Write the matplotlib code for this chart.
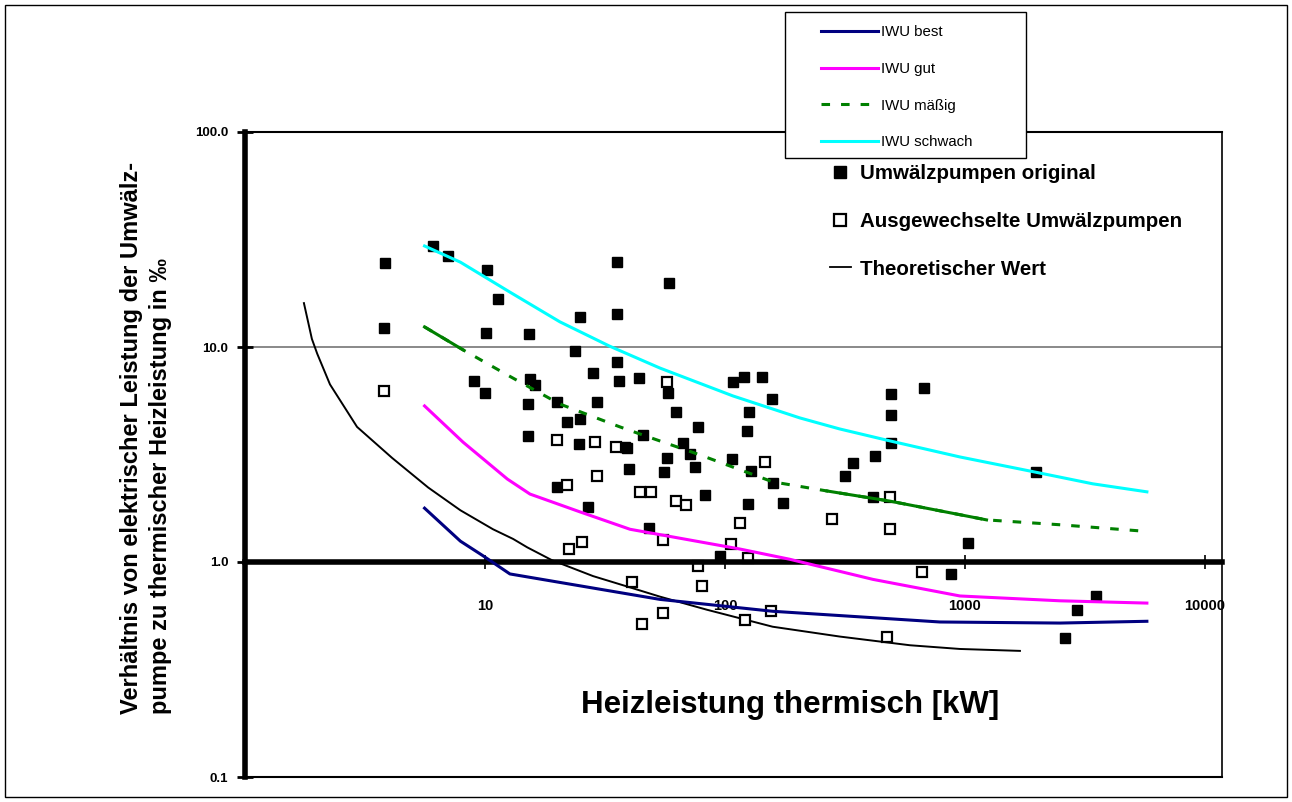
import matplotlib
matplotlib.use("Agg")
import matplotlib.pyplot as plt
from matplotlib.lines import Line2D
from matplotlib.patches import Rectangle
from matplotlib.ticker import NullLocator

plt.rcParams['font.family'] = ['Liberation Sans', 'DejaVu Sans']

# IWU Kennlinien
best_x = [5.6, 7.9, 9.8, 12.7, 53.6, 158, 787, 2490, 5730]
best_y = [1.78, 1.25, 1.07, 0.88, 0.67, 0.59, 0.526, 0.52, 0.53]
gut_x = [5.6, 8.1, 12.4, 15.4, 24.9, 40.2, 115, 186, 414, 953, 2490, 5730]
gut_y = [5.32, 3.61, 2.43, 2.07, 1.71, 1.42, 1.15, 1.03, 0.83, 0.695, 0.66, 0.644]
maessig_x = [5.6, 8.1, 12.7, 20.5, 36.5, 44.2, 78.6, 158, 266, 486, 787, 1230, 2490, 5600]
maessig_y = [12.4, 9.7, 7.3, 5.43, 4.25, 3.94, 3.15, 2.36, 2.14, 1.92, 1.73, 1.57, 1.49, 1.39]
schwach_x = [5.6, 7.9, 12.7, 20.5, 33, 53.6, 108, 205, 300, 486, 953, 1960, 3410, 5730]
schwach_y = [29.5, 24.8, 18.0, 13.1, 10.1, 7.98, 5.92, 4.68, 4.16, 3.66, 3.08, 2.62, 2.31, 2.12]

# theoretischer Wert
theo_x = [1.76, 1.90, 2.0, 2.26, 2.93, 4.1, 5.8, 7.9, 10.8, 13.1, 15.0, 19.0, 28.2, 39, 53.6,
          84, 158, 301, 590, 953, 1695]
theo_y = [16.0, 10.9, 9.3, 6.7, 4.25, 3.05, 2.22, 1.74, 1.42, 1.28, 1.17, 1.02, 0.86, 0.77, 0.69,
          0.60, 0.50, 0.45, 0.41, 0.394, 0.386]

# Umwälzpumpen original (filled)
orig_x = [3.83, 3.80, 6.07, 7.01, 10.2, 11.3, 10.1, 15.3, 24.9, 35.5, 35.5, 23.7, 35.5, 58.4,
          28.2, 36.2, 43.8, 9.0, 10.0, 15.4, 16.2, 15.1, 20.0, 29.3, 22.0, 24.9, 57.9, 62.5,
          108, 120, 143, 157, 126, 77.2, 124, 66.8, 71.5, 57.3, 55.7, 75.0, 107, 128, 158, 174,
          125, 82.5, 39.8, 38.3, 48.2, 95.3, 492, 492, 492, 422, 341, 316, 414, 675, 1976,
          1029, 875, 3513, 2929, 2610, 26.9, 20.0, 15.1, 24.6, 39.1, 45.5]
orig_y = [24.6, 12.3, 29.5, 26.5, 22.8, 16.7, 11.6, 11.5, 13.8, 24.9, 14.2, 9.58, 8.51, 19.8,
          7.57, 6.95, 7.17, 6.95, 6.11, 7.10, 6.66, 5.43, 5.55, 5.55, 4.48, 4.62, 6.11, 4.99,
          6.88, 7.25, 7.25, 5.73, 4.99, 4.25, 4.07, 3.58, 3.18, 3.05, 2.62, 2.77, 3.01, 2.65, 2.33, 1.88,
          1.86, 2.05, 2.71, 3.43, 1.44, 1.07, 6.04, 4.83, 3.58, 3.11, 2.89, 2.51, 2.01, 6.45, 2.62,
          1.22, 0.88, 0.695, 0.60, 0.443, 1.80, 2.23, 3.86, 3.54, 3.39, 3.90]

# Ausgewechselte Umwälzpumpen (open)
neu_x = [3.80, 20.0, 28.7, 35.2, 29.3, 22.0, 44.2, 49.2, 62.5, 68.8, 57.3, 147, 115, 279, 487,
         487, 55.2, 106, 125, 77.2, 80.2, 662, 22.4, 25.4, 41.0, 45.1, 55.2, 155, 121, 473]
neu_y = [6.24, 3.69, 3.61, 3.43, 2.51, 2.28, 2.12, 2.12, 1.92, 1.84, 6.88, 2.92, 1.52, 1.58, 2.01,
         1.42, 1.27, 1.21, 1.04, 0.96, 0.77, 0.90, 1.15, 1.24, 0.81, 0.515, 0.58, 0.59, 0.54, 0.45]

x_ticks = [10, 100, 1000, 10000]
x_ticklabels = ["10", "100", "1000", "10000"]
y_ticks = [0.1, 1, 10, 100]
y_ticklabels = ["0.1", "1.0", "10.0", "100.0"]

W, H = 1292, 802
fig = plt.figure(figsize=(W / 100, H / 100), dpi=100)
ax = fig.add_axes([245 / W, 1 - 777 / H, 977 / W, 645 / H])
ax.set_xscale('log')
ax.set_yscale('log')
ax.set_xlim(1, 11780)
ax.set_ylim(0.1, 100)

# scanned data
ax.plot(theo_x, theo_y, color='black', lw=1.4, zorder=2)
ax.plot(orig_x, orig_y, ls='none', marker='s', ms=6.8, color='black', zorder=2)
ax.plot(neu_x, neu_y, ls='none', marker='s', ms=6.8, mfc='white', mec='black', mew=1.6, zorder=2)

# IWU lines on top
l_best, = ax.plot(best_x, best_y, color='#000080', lw=2.2, zorder=4, label='IWU best')
l_gut, = ax.plot(gut_x, gut_y, color='#ff00ff', lw=2.2, zorder=4, label='IWU gut')
l_mae, = ax.plot(maessig_x, maessig_y, color='#008000', lw=2.2, ls=(0, (2.8, 3.6)), zorder=4,
                 label='IWU mäßig')
ax.plot(maessig_x[:2], maessig_y[:2], color='#008000', lw=2.2, zorder=4)
ax.plot(maessig_x[8:12], maessig_y[8:12], color='#008000', lw=2.2, zorder=4)
l_sch, = ax.plot(schwach_x, schwach_y, color='#00ffff', lw=2.2, zorder=4, label='IWU schwach')

# axes look
ax.axhline(10, color='#808080', lw=1.3, zorder=1)
ax.axhline(0.1, color='black', lw=1.5, zorder=1, clip_on=False)
ax.spines['bottom'].set_position(('data', 1))
ax.spines['bottom'].set_linewidth(4)
ax.spines['left'].set_linewidth(4)
ax.spines['top'].set_linewidth(1.5)
ax.spines['right'].set_linewidth(1.2)

ax.set_xticks(x_ticks)
ax.set_xticklabels(x_ticklabels, fontweight='bold')
ax.set_yticks(y_ticks)
ax.set_yticklabels(y_ticklabels, fontweight='bold')
ax.xaxis.set_minor_locator(NullLocator())
ax.yaxis.set_minor_locator(NullLocator())
ax.tick_params(axis='x', direction='inout', length=10, width=1.2, pad=22, labelsize=10.5)
ax.tick_params(axis='y', direction='inout', length=12, width=2, pad=6, labelsize=9.5)

# IWU legend in a box
box = Rectangle((785 / W, 1 - 158 / H), 241 / W, 146 / H, transform=fig.transFigure,
                fc='white', ec='black', lw=1, clip_on=False, zorder=6)
ax.add_artist(box)
leg1 = ax.legend(handles=[l_best, l_gut, l_mae, l_sch], loc='upper left',
                 bbox_to_anchor=(821 / W, 1 - 25 / H), bbox_transform=fig.transFigure,
                 frameon=False, borderpad=0, borderaxespad=0, handlelength=3.8,
                 handletextpad=0.2, labelspacing=1.52, fontsize=10.8)
leg1.set_zorder(7)
ax.add_artist(leg1)

# legend of the scanned chart
h_orig = Line2D([], [], ls='none', marker='s', ms=8, color='black')
h_neu = Line2D([], [], ls='none', marker='s', ms=8, mfc='white', mec='black', mew=1.6)
h_theo = Line2D([], [], color='black', lw=1.3)
leg2 = ax.legend(handles=[h_orig, h_neu, h_theo],
                 labels=['Umwälzpumpen original', 'Ausgewechselte Umwälzpumpen', 'Theoretischer Wert'],
                 loc='upper left', bbox_to_anchor=(830 / W, 1 - 164 / H), bbox_transform=fig.transFigure,
                 frameon=False, borderpad=0, borderaxespad=0, handlelength=1.0,
                 handletextpad=0.45, labelspacing=1.4, prop={'size': 14.8, 'weight': 'bold'})
leg2.set_zorder(5)

fig.text(0.113, 1 - 438 / H,
         "Verhältnis von elektrischer Leistung der Umwälz-\npumpe zu thermischer Heizleistung in ‰",
         rotation=90, ha='center', va='center', multialignment='left', fontsize=17,
         fontweight='bold', linespacing=1.3)
fig.text(790 / W, 1 - 705 / H, "Heizleistung thermisch [kW]", ha='center', va='center',
         fontsize=22.5, fontweight='bold')

fig.add_artist(Rectangle((5 / W, 5 / H), 1282 / W, 792 / H, transform=fig.transFigure,
                         fill=False, ec='black', lw=1))

fig.savefig('out.png', dpi=100)
